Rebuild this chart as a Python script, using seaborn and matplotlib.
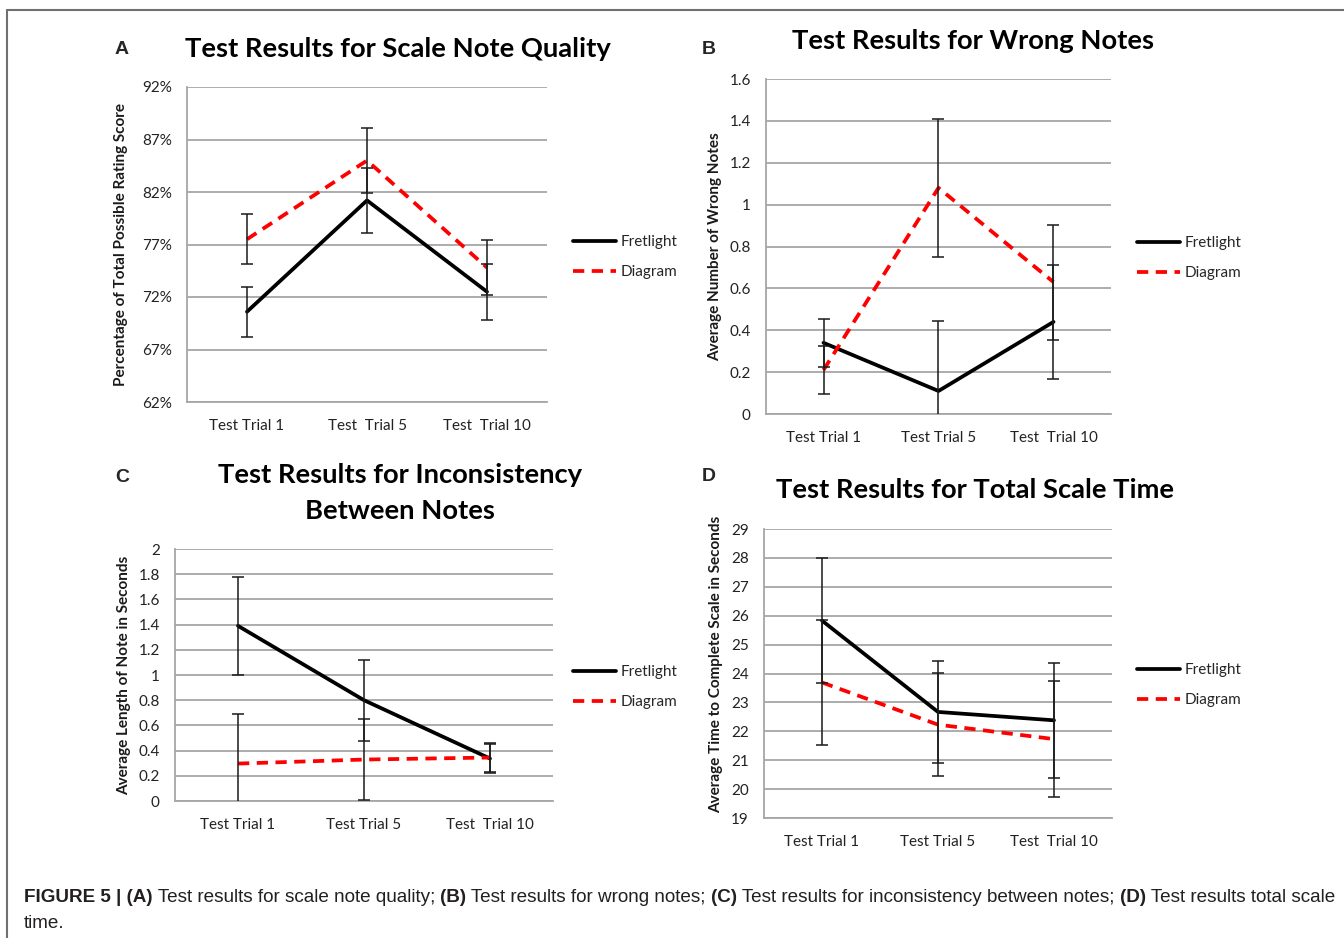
import numpy as np
import pandas as pd
import matplotlib.pyplot as plt
import seaborn as sns
from matplotlib.lines import Line2D

sns.set_theme(style="white")
plt.rcParams["font.family"] = ["Lato", "DejaVu Sans"]

W, H = 1344, 938

# ==========================================
# Datos
# ==========================================
trials = [0, 1, 2]
series_names = ["Fretlight", "Diagram"]

# A - calidad de las notas (%)
labels_a = ["Test Trial 1", "Test  Trial 5", "Test  Trial 10"]
quality_fret = [70.6, 81.2, 72.5]
quality_fret_err = [2.4, 3.1, 2.65]
quality_diag = [77.5, 85.0, 74.8]
quality_diag_err = [2.4, 3.1, 2.6]
ticks_a = [62, 67, 72, 77, 82, 87, 92]

# B - notas equivocadas
labels_b = ["Test Trial 1", "Test Trial 5", "Test  Trial 10"]
wrong_fret = [0.34, 0.11, 0.44]
wrong_fret_err = [0.115, 0.335, 0.273]
wrong_diag = [0.21, 1.08, 0.63]
wrong_diag_err = [0.115, 0.33, 0.275]
ticks_b = [0, 0.2, 0.4, 0.6, 0.8, 1, 1.2, 1.4, 1.6]

# C - inconsistencia entre notas (s)
labels_c = ["Test Trial 1", "Test Trial 5", "Test  Trial 10"]
incons_fret = [1.39, 0.80, 0.337]
incons_fret_err = [0.387, 0.323, 0.115]
incons_diag = [0.297, 0.329, 0.345]
incons_diag_err = [0.39, 0.318, 0.115]
ticks_c = [0, 0.2, 0.4, 0.6, 0.8, 1, 1.2, 1.4, 1.6, 1.8, 2]

# D - tiempo total de la escala (s)
labels_d = ["Test Trial 1", "Test Trial 5", "Test  Trial 10"]
time_fret = [25.83, 22.67, 22.38]
time_fret_err = [2.17, 1.77, 2.0]
time_diag = [23.69, 22.23, 21.73]
time_diag_err = [2.15, 1.79, 2.0]
ticks_d = [19, 20, 21, 22, 23, 24, 25, 26, 27, 28, 29]

GRID = "#a6a6a6"


def px_axes(fig, x0, y0, x1, y1):
    return fig.add_axes([x0 / W, 1 - y1 / H, (x1 - x0) / W, (y1 - y0) / H])


def panel(ax, labels, fret, fret_err, diag, diag_err, ticks, ylabel,
          label_x, label_y, leg_x, leg_y, pct=False):
    df = pd.DataFrame({
        "trial": trials * 2,
        "value": fret + diag,
        "series": ["Fretlight"] * 3 + ["Diagram"] * 3,
    })
    sns.lineplot(data=df, x="trial", y="value", hue="series", style="series",
                 palette={"Fretlight": "black", "Diagram": "#ff0000"},
                 dashes={"Fretlight": "", "Diagram": (3, 2)},
                 linewidth=2.7, errorbar=None, sort=False, ax=ax, zorder=2)
    ax.errorbar(trials, fret, yerr=fret_err, fmt="none", ecolor="#1a1a1a",
                elinewidth=1.1, capsize=4, capthick=1.1, zorder=3)
    ax.errorbar(trials, diag, yerr=diag_err, fmt="none", ecolor="#1a1a1a",
                elinewidth=1.1, capsize=4, capthick=1.1, zorder=3)

    ax.set_xlim(-0.5, 2.5)
    ax.set_ylim(ticks[0], ticks[-1])
    ax.set_yticks(ticks)
    if pct:
        ax.set_yticklabels([f"{t}%" for t in ticks])
    else:
        ax.set_yticklabels([f"{t:g}" for t in ticks])
    ax.set_xticks(trials)
    ax.set_xticklabels(labels)
    ax.tick_params(axis="both", length=0, labelsize=11, colors="#222222")
    ax.tick_params(axis="y", pad=11)
    ax.tick_params(axis="x", pad=12)
    ax.yaxis.grid(True, color=GRID, linewidth=1.3)
    ax.xaxis.grid(False)
    for s in ["top", "right"]:
        ax.spines[s].set_visible(False)
    for s in ["left", "bottom"]:
        ax.spines[s].set_color(GRID)
        ax.spines[s].set_linewidth(1.3)
    ax.set_xlabel("")
    ax.set_ylabel(ylabel, fontsize=11, fontweight="bold", color="#1a1a1a")
    ax.yaxis.set_label_coords(label_x, label_y)

    sns.move_legend(ax, "center left", bbox_to_anchor=(leg_x, leg_y),
                    frameon=False, title="", fontsize=11, borderpad=0,
                    borderaxespad=0, handlelength=2.8, handletextpad=0.3,
                    labelspacing=1.05)


fig = plt.figure(figsize=(W / 100, H / 100), dpi=100)

ax_a = px_axes(fig, 187, 87, 547, 402)
panel(ax_a, labels_a, quality_fret, quality_fret_err, quality_diag, quality_diag_err,
      ticks_a, "Percentage of Total Possible Rating Score", -0.164, 0.5, 1.072, 0.46, pct=True)

ax_b = px_axes(fig, 766, 79, 1111, 414)
panel(ax_b, labels_b, wrong_fret, wrong_fret_err, wrong_diag, wrong_diag_err,
      ticks_b, "Average Number of Wrong Notes", -0.128, 0.5, 1.075, 0.466)

ax_c = px_axes(fig, 175, 549, 553, 801)
panel(ax_c, labels_c, incons_fret, incons_fret_err, incons_diag, incons_diag_err,
      ticks_c, "Average Length of Note in Seconds", -0.116, 0.5, 1.053, 0.452)

ax_d = px_axes(fig, 764, 529, 1112, 818)
panel(ax_d, labels_d, time_fret, time_fret_err, time_diag, time_diag_err,
      ticks_d, "Average Time to Complete Scale in Seconds", -0.118, 0.53, 1.072, 0.46)

# Títulos
def ftext(x, y, s, **kw):
    return fig.text(x / W, 1 - y / H, s, **kw)

tkw = dict(fontsize=19.7, fontweight="bold", ha="center", va="center", color="black")
ftext(398, 49, "Test Results for Scale Note Quality", **tkw)
ftext(973, 41, "Test Results for Wrong Notes", **tkw)
ftext(400, 475, "Test Results for Inconsistency", **tkw)
ftext(400, 511, "Between Notes", **tkw)
ftext(975, 490, "Test Results for Total Scale Time", **tkw)

lkw = dict(fontsize=14, fontweight="bold", ha="center", va="center",
           family=["Liberation Sans", "DejaVu Sans"])
ftext(122, 49, "A", **lkw)
ftext(709, 49, "B", **lkw)
ftext(122, 477, "C", **lkw)
ftext(709, 476, "D", **lkw)

# Marco
fig.add_artist(Line2D([7 / W, 1], [1 - 10 / H, 1 - 10 / H], color="#707070", lw=1.5))
fig.add_artist(Line2D([7 / W, 7 / W], [0, 1 - 10 / H], color="#707070", lw=1.5))

# Pie de figura
caption_runs = [
    ("FIGURE 5 | (A)", True),
    (" Test results for scale note quality; ", False),
    ("(B)", True),
    (" Test results for wrong notes; ", False),
    ("(C)", True),
    (" Test results for inconsistency between notes; ", False),
    ("(D)", True),
    (" Test results total scale", False),
]
cap_family = ["Liberation Sans Narrow", "Liberation Sans", "DejaVu Sans"]
cap_size = 13.6
renderer = fig.canvas.get_renderer()
x = 24
for txt, bold in caption_runs:
    t = ftext(x, 902, txt, fontsize=cap_size, fontweight="bold" if bold else "normal",
              family=cap_family, ha="left", va="baseline", color="#231f20")
    x += t.get_window_extent(renderer=renderer).width
ftext(24, 928, "time.", fontsize=cap_size, family=cap_family, ha="left", va="baseline",
      color="#231f20")

fig.savefig("out.png", dpi=100)
